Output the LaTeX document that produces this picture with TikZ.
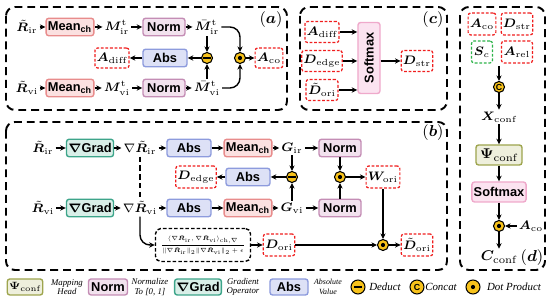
\documentclass[tikz,border=0pt]{standalone}
\usepackage{amsmath}
\usepackage{amssymb}
\usepackage{bm}
\usepackage{graphicx}
\usepackage{fontspec}
\setsansfont{Liberation Sans}
\newfontfamily\legfont{Liberation Serif}
\usetikzlibrary{arrows.meta}

\definecolor{meanfill}{HTML}{FBE0E0}
\definecolor{meandraw}{HTML}{E88C8C}
\definecolor{normfill}{HTML}{F2E2EE}
\definecolor{normdraw}{HTML}{C48DB5}
\definecolor{absfill}{HTML}{DDE1F6}
\definecolor{absdraw}{HTML}{8D9BDD}
\definecolor{gradfill}{HTML}{D9EFE8}
\definecolor{graddraw}{HTML}{3DA58A}
\definecolor{softfill}{HTML}{FBE3F0}
\definecolor{softdraw}{HTML}{EFA9CB}
\definecolor{psifill}{HTML}{EEEFDC}
\definecolor{psidraw}{HTML}{9EA54E}
\definecolor{opgold}{HTML}{F7C21B}
\definecolor{outred}{HTML}{F01E1E}
\definecolor{outgreen}{HTML}{2DB34A}

\tikzset{
  arr/.style={-{Stealth[length=3.2pt,width=3pt]}, line width=0.8pt},
  panel/.style={dash pattern=on 4.5pt off 2.8pt, line width=1.1pt, rounded corners=5pt},
  dashline/.style={dash pattern=on 3pt off 2pt, line width=1pt},
  lbl/.style={font=\fontsize{7}{8}\selectfont, inner sep=1pt},
  tag/.style={font=\fontsize{9}{10}\selectfont, inner sep=0pt},
  opbox/.style={draw, line width=0.8pt, rounded corners=1.5pt, minimum height=3.5mm, inner sep=1pt, font=\sffamily\bfseries\fontsize{7.3}{8}\selectfont},
  meanbox/.style={opbox, fill=meanfill, draw=meandraw, minimum width=8.2mm},
  normbox/.style={opbox, fill=normfill, draw=normdraw, minimum width=8.4mm},
  absbox/.style={opbox, fill=absfill, draw=absdraw, minimum width=8.8mm},
  gradbox/.style={opbox, fill=gradfill, draw=graddraw, minimum width=9.4mm},
  softbox/.style={opbox, fill=softfill, draw=softdraw},
  psibox/.style={opbox, fill=psifill, draw=psidraw},
  outbox/.style={draw=outred, dash pattern=on 1.6pt off 1pt, line width=0.7pt, rounded corners=1.5pt, fill=white, minimum height=4.2mm, minimum width=6mm, inner sep=1pt, font=\fontsize{7}{8}\selectfont},
  simbox/.style={outbox, draw=outgreen},
  fracbox/.style={draw, dash pattern=on 2pt off 1.2pt, line width=0.8pt, rounded corners=3pt, minimum width=19mm, minimum height=6.6mm, inner sep=1pt, font=\fontsize{5}{6}\selectfont},
  opcirc/.style={circle, draw, fill=opgold, line width=0.6pt, minimum size=2.2mm, inner sep=0pt},
  opdot/.style={opcirc, path picture={\fill[black] (path picture bounding box.center) circle (0.42mm);}},
  opminus/.style={opcirc, path picture={\fill[black] ([shift={(-0.75mm,-0.2mm)}]path picture bounding box.center) rectangle ([shift={(0.75mm,0.2mm)}]path picture bounding box.center);}},
  opcat/.style={opcirc, font=\sffamily\bfseries\fontsize{5}{5}\selectfont},
  legtext/.style={font=\legfont\itshape\fontsize{5}{5.5}\selectfont, align=center, inner sep=0pt},
  legbig/.style={font=\legfont\itshape\fontsize{6.2}{7}\selectfont, inner sep=0pt},
}

\begin{document}
\begin{tikzpicture}[x=0.2mm, y=-0.2mm]
  \useasboundingbox (0,0) rectangle (550,304);
  \draw[panel] (6,7) rectangle (287,110);
  \draw[panel] (300,7) rectangle (447,110);
  \draw[panel] (6,122) rectangle (447,270);
  \draw[panel] (460,7) rectangle (545,270);
  \node[tag] (taga) at (271,20) {$(\bm a)$};
  \node[tag] (tagc) at (433,20) {$(\bm c)$};
  \node[tag] (tagb) at (433,133) {$(\bm b)$};
  \node[tag] (tagd) at (532,258) {$(\bm d)$};

  \node[lbl] (Rir1) at (27,27) {$\tilde{\bm R}_{\mathrm{ir}}$};
  \node[meanbox] (mean1) at (70,27) {Mean\textsubscript{ch}};
  \node[lbl] (Mir) at (117,27) {$\bm M^{\mathrm t}_{\mathrm{ir}}$};
  \node[normbox] (norm1) at (164,27) {Norm};
  \node[lbl] (Mbir) at (207,27) {$\bar{\bm M}^{\mathrm t}_{\mathrm{ir}}$};
  \node[lbl] (Rvi1) at (27,88) {$\tilde{\bm R}_{\mathrm{vi}}$};
  \node[meanbox] (mean2) at (70,88) {Mean\textsubscript{ch}};
  \node[lbl] (Mvi) at (117,88) {$\bm M^{\mathrm t}_{\mathrm{vi}}$};
  \node[normbox] (norm2) at (164,88) {Norm};
  \node[lbl] (Mbvi) at (207,88) {$\bar{\bm M}^{\mathrm t}_{\mathrm{vi}}$};
  \node[opminus] (sub1) at (207,58) {};
  \node[absbox] (abs1) at (165,58) {Abs};
  \node[outbox, minimum width=5.6mm, minimum height=4mm] (Adiff1) at (112,58) {$\bm A_{\mathrm{diff}}$};
  \node[opdot] (dot1) at (240,58) {};
  \node[outbox, minimum width=3.8mm, minimum height=4mm] (Aco1) at (269,58) {$\bm A_{\mathrm{co}}$};
  \draw[arr] (Rir1) -- (mean1);
  \draw[arr] (mean1) -- (Mir);
  \draw[arr] (Mir) -- (norm1);
  \draw[arr] (norm1) -- (Mbir);
  \draw[arr] (Rvi1) -- (mean2);
  \draw[arr] (mean2) -- (Mvi);
  \draw[arr] (Mvi) -- (norm2);
  \draw[arr] (norm2) -- (Mbvi);
  \draw[arr] (Mbir) -- (sub1);
  \draw[arr] (Mbvi) -- (sub1);
  \draw[arr] (sub1) -- (abs1);
  \draw[arr] (abs1) -- (Adiff1);
  \draw[arr, rounded corners=2mm] (Mbir.east) -| (dot1);
  \draw[arr, rounded corners=2mm] (Mbvi.east) -| (dot1);
  \draw[arr] (dot1) -- (Aco1);

  \node[outbox, minimum width=6.4mm] (Adiff2) at (322,32) {$\bm A_{\mathrm{diff}}$};
  \node[outbox, minimum width=6.4mm] (Dedge1) at (322,61) {$\bm D_{\mathrm{edge}}$};
  \node[outbox, minimum width=6.4mm] (Dori1) at (322,90) {$\tilde{\bm D}_{\mathrm{ori}}$};
  \node[softbox, rotate=90, minimum width=14.2mm, minimum height=4.4mm] (soft1) at (369,58) {Softmax};
  \node[outbox, minimum width=6.2mm] (Dstr1) at (417,61) {$\bm D_{\mathrm{str}}$};
  \draw[arr] (Adiff2.east) -- (Adiff2.east -| soft1.north);
  \draw[arr] (Dedge1.east) -- (Dedge1.east -| soft1.north);
  \draw[arr] (Dori1.east) -- (Dori1.east -| soft1.north);
  \draw[arr] (Dstr1.west -| soft1.south) -- (Dstr1.west);

  \node[lbl] (Rir2) at (43,148) {$\tilde{\bm R}_{\mathrm{ir}}$};
  \node[gradbox] (grad1) at (90,148) {$\bm\nabla$Grad};
  \node[lbl] (nRir) at (140,148) {$\nabla\tilde{\bm R}_{\mathrm{ir}}$};
  \node[absbox] (abs2) at (189,148) {Abs};
  \node[meanbox] (mean3) at (248,148) {Mean\textsubscript{ch}};
  \node[lbl] (Gir) at (292,148) {$\bm G_{\mathrm{ir}}$};
  \node[normbox] (norm3) at (340,148) {Norm};
  \node[lbl] (Rvi2) at (43,208) {$\tilde{\bm R}_{\mathrm{vi}}$};
  \node[gradbox] (grad2) at (90,208) {$\bm\nabla$Grad};
  \node[lbl] (nRvi) at (140,208) {$\nabla\tilde{\bm R}_{\mathrm{vi}}$};
  \node[absbox] (abs3) at (189,208) {Abs};
  \node[meanbox] (mean4) at (248,208) {Mean\textsubscript{ch}};
  \node[lbl] (Gvi) at (292,208) {$\bm G_{\mathrm{vi}}$};
  \node[normbox] (norm4) at (340,208) {Norm};
  \node[outbox, minimum width=6.2mm, minimum height=4.4mm] (Dedge2) at (196,177) {$\bm D_{\mathrm{edge}}$};
  \node[absbox] (abs4) at (248,177) {Abs};
  \node[opminus] (sub2) at (292,177) {};
  \node[opdot] (dot2) at (340,177) {};
  \node[outbox, minimum width=5.4mm, minimum height=4.4mm] (Wori) at (383,177) {$\bm W_{\mathrm{ori}}$};
  \node[fracbox] (frac) at (203,245) {\scalebox{0.68}{$\dfrac{\langle\nabla\tilde{\bm R}_{\mathrm{ir}},\nabla\tilde{\bm R}_{\mathrm{vi}}\rangle_{\mathrm{ch},\nabla}}{\|\nabla\tilde{\bm R}_{\mathrm{ir}}\|_2\|\nabla\tilde{\bm R}_{\mathrm{vi}}\|_2+\epsilon}$}};
  \node[outbox, minimum width=6.2mm, minimum height=4.4mm] (Dori2) at (279,245) {$\bm D_{\mathrm{ori}}$};
  \node[opdot] (dot3) at (383,245) {};
  \node[outbox, minimum width=6.2mm, minimum height=4.4mm] (Dori3) at (417,245) {$\tilde{\bm D}_{\mathrm{ori}}$};
  \draw[arr] (Rir2) -- (grad1);
  \draw[arr] (grad1) -- (nRir);
  \draw[arr] (nRir) -- (abs2);
  \draw[arr] (abs2) -- (mean3);
  \draw[arr] (mean3) -- (Gir);
  \draw[arr] (Gir) -- (norm3);
  \draw[arr] (Rvi2) -- (grad2);
  \draw[arr] (grad2) -- (nRvi);
  \draw[arr] (nRvi) -- (abs3);
  \draw[arr] (abs3) -- (mean4);
  \draw[arr] (mean4) -- (Gvi);
  \draw[arr] (Gvi) -- (norm4);
  \draw[arr] (Gir) -- (sub2);
  \draw[arr] (Gvi) -- (sub2);
  \draw[arr] (sub2) -- (abs4);
  \draw[arr] (abs4) -- (Dedge2);
  \draw[arr] (norm3) -- (dot2);
  \draw[arr] (norm4) -- (dot2);
  \draw[arr] (dot2) -- (Wori);
  \draw[arr] (Wori) -- (dot3);
  \draw[arr] (Dori2) -- (dot3);
  \draw[arr] (dot3) -- (Dori3);
  \draw[arr] (frac) -- (Dori2);
  \draw[dashline] (nRir) -- (nRvi);
  \draw[arr, rounded corners=2mm] (nRvi.south) |- (frac.west);

  \node[outbox, minimum width=4.2mm, minimum height=4.4mm] (Aco2) at (482,24) {$\bm A_{\mathrm{co}}$};
  \node[outbox, minimum width=6.2mm, minimum height=4.4mm] (Dstr2) at (517,24) {$\bm D_{\mathrm{str}}$};
  \node[simbox, minimum width=4.2mm, minimum height=4.4mm] (Sc) at (482,52) {$\bm S_{c}$};
  \node[outbox, minimum width=6.2mm, minimum height=4.4mm] (Arel) at (517,52) {$\bm A_{\mathrm{rel}}$};
  \coordinate (grp) at (499,66);
  \node[opcat] (cat) at (499,87) {C};
  \node[lbl] (Xconf) at (499,117) {$\bm X_{\mathrm{conf}}$};
  \node[psibox, minimum width=9.2mm, minimum height=4mm, font=\fontsize{8}{9}\selectfont] (psi1) at (499,155) {$\bm\Psi_{\mathrm{conf}}$};
  \node[softbox, minimum width=9.8mm, minimum height=4mm] (soft2) at (499,192) {Softmax};
  \node[opdot] (dot4) at (499,226) {};
  \node[lbl] (Aco3) at (531,226) {$\bm A_{\mathrm{co}}$};
  \node[lbl, font=\fontsize{8.5}{9}\selectfont] (Cconf) at (499,257) {$\bm C_{\mathrm{conf}}$};
  \draw[arr] (grp) -- (cat);
  \draw[arr] (cat) -- (Xconf);
  \draw[arr] (Xconf) -- (psi1);
  \draw[arr] (psi1) -- (soft2);
  \draw[arr] (soft2) -- (dot4);
  \draw[arr] (Aco3) -- (dot4);
  \draw[arr] (dot4) -- (Cconf);

  \node[psibox, minimum width=6.8mm, minimum height=3.2mm, font=\fontsize{6.5}{7}\selectfont] (lpsi) at (25,287) {$\bm\Psi_{\mathrm{conf}}$};
  \node[legtext] (lpsit) at (67,287) {Mapping\\Head};
  \node[normbox, minimum width=7.8mm, minimum height=3.2mm] (lnorm) at (108,287) {Norm};
  \node[legtext] (lnormt) at (150,287) {Normalize\\To [0, 1]};
  \node[gradbox, minimum width=7.4mm, minimum height=3.2mm] (lgrad) at (198,287) {$\bm\nabla$Grad};
  \node[legtext] (lgradt) at (243,287) {Gradient\\Operator};
  \node[absbox, minimum width=7.6mm, minimum height=3.2mm] (labs) at (289,287) {Abs};
  \node[legtext, font=\legfont\itshape\fontsize{4.5}{5.5}\selectfont] (labst) at (328,287) {Absolute\\Value};
  \node[opminus, minimum size=2.8mm] (lsub) at (358,287) {};
  \node[legbig] (lsubt) at (385,287) {Deduct};
  \node[opcat, minimum size=2.8mm] (lcat) at (417,287) {C};
  \node[legbig] (lcatt) at (441,287) {Concat};
  \node[opdot, minimum size=2.8mm] (ldot) at (473,287) {};
  \node[legbig] (ldott) at (514,287) {Dot Product};
\end{tikzpicture}
\end{document}
